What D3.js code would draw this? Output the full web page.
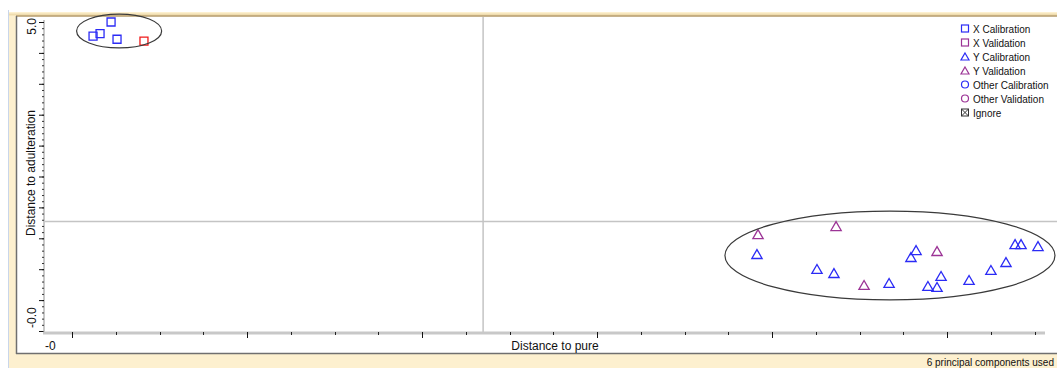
<!DOCTYPE html>
<html>
<head>
<meta charset="utf-8">
<script src="https://cdn.jsdelivr.net/npm/d3@7/dist/d3.min.js"></script>
<style>
  html, body { margin: 0; padding: 0; background: #ffffff; overflow: hidden; }
  svg { display: block; font-family: "Liberation Sans", Arial, sans-serif; }
</style>
</head>
<body>
<svg id="chart" width="1057" height="368"></svg>
<script>
// Axis ranges (Distance to pure / Distance to adulteration)
const xDomain = [-0.166, 5.56];
const yDomain = [-0.01, 5.0];

// Critical limits drawn as grey cross lines
const xLimit = 2.349;
const yLimit = 1.764;

// X class samples (squares)
const xCalX = [0.223, 0.120, 0.160, 0.257];
const xCalY = [5.000, 4.770, 4.810, 4.720];
const xValX = [0.411];
const xValY = [4.690];

// Y class samples (triangles)
const yCalX = [3.914, 4.257, 4.354, 4.669, 4.794, 4.823, 4.891, 4.943, 4.966, 5.126, 5.251, 5.337, 5.389, 5.423, 5.520];
const yCalY = [1.214, 0.971, 0.906, 0.744, 1.165, 1.278, 0.696, 0.680, 0.858, 0.793, 0.955, 1.084, 1.375, 1.375, 1.343];
const yValX = [3.920, 4.366, 4.526, 4.943];
const yValY = [1.537, 1.667, 0.712, 1.262];

// Group outlines: centre and radii in data units
const groupCx = [0.269, 4.674];
const groupCy = [4.854, 1.214];
const groupRx = [0.243, 0.943];
const groupRy = [0.275, 0.720];

const legendLabels = ["X Calibration", "X Validation", "Y Calibration", "Y Validation",
                      "Other Calibration", "Other Validation", "Ignore"];
const xTitle = "Distance to pure";
const yTitle = "Distance to adulteration";
const footer = "6 principal components used";

const BLUE = "#2b2bf5", RED = "#f01a1a", PURPLE = "#9c3496";
const legendColors = [BLUE, PURPLE, BLUE, PURPLE, BLUE, PURPLE, "#333"];
const legendShapes = ["square", "square", "triangle", "triangle", "circle", "circle", "ignore"];

const svg = d3.select("#chart");
const W = 1057, H = 368;

// window frame
svg.append("rect").attr("x", 0).attr("y", 0).attr("width", W).attr("height", H).attr("fill", "#ffffff");
svg.append("line").attr("x1", 8.5).attr("x2", 8.5).attr("y1", 10).attr("y2", H)
  .attr("stroke", "#c9d6ea").attr("stroke-width", 1);
svg.append("rect").attr("x", 9).attr("y", 12).attr("width", W - 9).attr("height", H - 12).attr("fill", "#fdf0cf");
svg.append("line").attr("x1", 9).attr("x2", W).attr("y1", 14.5).attr("y2", 14.5)
  .attr("stroke", "#efdcae").attr("stroke-width", 2);

// plot panel
svg.append("rect").attr("x", 16).attr("y", 16).attr("width", 1080).attr("height", 337).attr("fill", "#ffffff");
svg.append("line").attr("x1", 16).attr("x2", W).attr("y1", 16).attr("y2", 16)
  .attr("stroke", "#b59a68").attr("stroke-width", 1.5);
svg.append("line").attr("x1", 16.5).attr("x2", 16.5).attr("y1", 16).attr("y2", 354)
  .attr("stroke", "#6f6f6f").attr("stroke-width", 1.5);
svg.append("line").attr("x1", 16).attr("x2", W).attr("y1", 353.5).attr("y2", 353.5)
  .attr("stroke", "#6f6f6f").attr("stroke-width", 1.5);

const x = d3.scaleLinear().domain(xDomain).range([43, 1045]);
const y = d3.scaleLinear().domain(yDomain).range([331, 22]);

// limit lines
svg.append("line").attr("x1", x(xLimit)).attr("x2", x(xLimit)).attr("y1", 17).attr("y2", 333)
  .attr("stroke", "#c4c4c4").attr("stroke-width", 1.5);
svg.append("line").attr("x1", 43).attr("x2", W).attr("y1", y(yLimit)).attr("y2", y(yLimit))
  .attr("stroke", "#c4c4c4").attr("stroke-width", 1.5);

// y axis
const yMajor = d3.range(0, 11).map(i => yDomain[0] + i * (yDomain[1] - yDomain[0]) / 10);
const yMinor = d3.range(0, 51).map(i => yDomain[0] + i * (yDomain[1] - yDomain[0]) / 50);
svg.append("line").attr("x1", 44).attr("x2", 44).attr("y1", y(yDomain[1]) - 2).attr("y2", 334)
  .attr("stroke", "#c8c8c8").attr("stroke-width", 2);
svg.append("g").selectAll("line").data(yMinor).join("line")
  .attr("x1", 42).attr("x2", 44).attr("y1", d => y(d) + 0.5).attr("y2", d => y(d) + 0.5)
  .attr("stroke", "#333").attr("stroke-width", 1);
svg.append("g").selectAll("line").data(yMajor).join("line")
  .attr("x1", 39).attr("x2", 44).attr("y1", d => y(d) + 0.5).attr("y2", d => y(d) + 0.5)
  .attr("stroke", "#111").attr("stroke-width", 1);

// x axis
const xMajor = d3.range(0, 6);
const xMinor = d3.range(0, 23).map(i => i * 0.25).filter(v => v <= xDomain[1]);
svg.append("line").attr("x1", 43).attr("x2", x(xDomain[1])).attr("y1", 333).attr("y2", 333)
  .attr("stroke", "#c8c8c8").attr("stroke-width", 3);
svg.append("g").selectAll("line").data(xMinor).join("line")
  .attr("x1", d => Math.round(x(d)) + 0.5).attr("x2", d => Math.round(x(d)) + 0.5)
  .attr("y1", 332).attr("y2", 335).attr("stroke", "#222").attr("stroke-width", 1);
svg.append("g").selectAll("line").data(xMajor).join("line")
  .attr("x1", d => Math.round(x(d)) + 0.5).attr("x2", d => Math.round(x(d)) + 0.5)
  .attr("y1", 332).attr("y2", 338).attr("stroke", "#111").attr("stroke-width", 1);

// end labels (keep the sign of values that round to zero)
const fx = v => v.toFixed(0), fy = v => v.toFixed(1);
svg.append("text").attr("x", x(xDomain[0]) + 2).attr("y", 350)
  .attr("font-size", 12).attr("fill", "#111").text(fx(xDomain[0]));
svg.append("text").attr("transform", `translate(36,${y(yDomain[1]) - 4}) rotate(-90)`)
  .attr("text-anchor", "end").attr("font-size", 12).attr("fill", "#111").text(fy(yDomain[1]));
svg.append("text").attr("transform", `translate(36,${y(yDomain[0]) - 3}) rotate(-90)`)
  .attr("text-anchor", "start").attr("font-size", 12).attr("fill", "#111").text(fy(yDomain[0]));

// axis titles
svg.append("text").attr("x", 555).attr("y", 350).attr("text-anchor", "middle")
  .attr("font-size", 12).attr("fill", "#111").text(xTitle);
svg.append("text").attr("transform", "translate(35,173) rotate(-90)").attr("text-anchor", "middle")
  .attr("font-size", 12).attr("fill", "#111").text(yTitle);

// footer
svg.append("text").attr("x", 1054).attr("y", 366).attr("text-anchor", "end")
  .attr("font-size", 10).attr("fill", "#111").text(footer);

// markers
const sq = d3.symbol(d3.symbolSquare, 64);
const tri = d3.symbol(d3.symbolTriangle, 46);
function drawSet(xs, ys, gen, color) {
  svg.append("g").selectAll("path").data(xs.map((v, i) => [v, ys[i]])).join("path")
    .attr("d", gen)
    .attr("transform", d => `translate(${x(d[0])},${y(d[1])})`)
    .attr("fill", "none").attr("stroke", color).attr("stroke-width", 1.3);
}
drawSet(xCalX, xCalY, sq, BLUE);
drawSet(xValX, xValY, sq, RED);
drawSet(yCalX, yCalY, tri, BLUE);
drawSet(yValX, yValY, tri, PURPLE);

// group outlines
svg.append("g").selectAll("ellipse").data(groupCx.map((c, i) => i)).join("ellipse")
  .attr("cx", i => x(groupCx[i])).attr("cy", i => y(groupCy[i]))
  .attr("rx", i => x(groupCx[i] + groupRx[i]) - x(groupCx[i]))
  .attr("ry", i => y(groupCy[i]) - y(groupCy[i] + groupRy[i]))
  .attr("fill", "none").attr("stroke", "#3a3a3a").attr("stroke-width", 1.2);

// legend
const lg = svg.append("g").attr("transform", "translate(965,29)");
legendLabels.forEach((lab, i) => {
  const g = lg.append("g").attr("transform", `translate(0,${i * 14})`);
  const c = legendColors[i];
  const s = legendShapes[i];
  if (s === "square") {
    g.append("rect").attr("x", -3.5).attr("y", -4).attr("width", 7).attr("height", 7)
      .attr("fill", "none").attr("stroke", c).attr("stroke-width", 1.2);
  } else if (s === "triangle") {
    g.append("path").attr("d", "M0,-4 L4,3 L-4,3 Z").attr("fill", "none").attr("stroke", c).attr("stroke-width", 1.2);
  } else if (s === "circle") {
    g.append("circle").attr("cx", 0).attr("cy", -0.5).attr("r", 3.5).attr("fill", "none").attr("stroke", c).attr("stroke-width", 1.2);
  } else {
    g.append("rect").attr("x", -3.5).attr("y", -4).attr("width", 7).attr("height", 7)
      .attr("fill", "none").attr("stroke", c).attr("stroke-width", 1);
    g.append("path").attr("d", "M-3.5,-4 L3.5,3 M3.5,-4 L-3.5,3").attr("stroke", c).attr("stroke-width", 1);
  }
  g.append("text").attr("x", 8).attr("y", 3.5).attr("font-size", 10).attr("fill", "#111").text(lab);
});
</script>
</body>
</html>
